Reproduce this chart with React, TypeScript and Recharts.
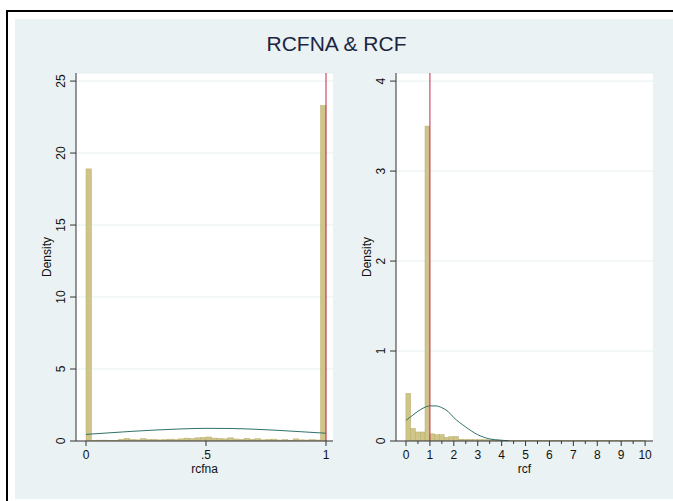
import React from 'react';
import {
  ComposedChart,
  Bar,
  Line,
  XAxis,
  YAxis,
  CartesianGrid,
  ReferenceLine,
} from 'recharts';

// rcfna histogram: 44 equal bins on [0, 1], density per bin
const rcfnaBinWidth = 1 / 44;
const rcfnaDensity = [
  18.9, 0.03, 0.06, 0.06, 0.05, 0.04, 0.12, 0.18, 0.1, 0.08, 0.17, 0.1,
  0.12, 0.08, 0.1, 0.13, 0.1, 0.15, 0.2, 0.16, 0.22, 0.25, 0.28, 0.2,
  0.18, 0.15, 0.22, 0.14, 0.12, 0.19, 0.12, 0.16, 0.08, 0.12, 0.13, 0.07,
  0.1, 0.06, 0.15, 0.08, 0.07, 0.09, 0.07, 23.3,
];
// normal overlay
const rcfnaCurveX = [0, 0.1, 0.2, 0.3, 0.4, 0.5, 0.6, 0.7, 0.8, 0.9, 1];
const rcfnaCurveY = [0.46, 0.57, 0.68, 0.77, 0.84, 0.88, 0.87, 0.82, 0.74, 0.64, 0.54];
const rcfnaTicks = [0, 0.5, 1];
const rcfnaTickLabels = ['0', '.5', '1'];
const rcfnaYTicks = [0, 5, 10, 15, 20, 25];

// rcf histogram: 50 bins of 0.2 on [0, 10]
const rcfBinWidth = 0.2;
const rcfDensity = [
  0.53, 0.14, 0.1, 0.1, 3.5, 0.08, 0.07, 0.07, 0.04, 0.05,
  0.05, 0.02, 0.018, 0.017, 0.016, 0.015, 0.014, 0.013, 0.012, 0.011,
  0.008, 0.006, 0.006, 0.006, 0.006, 0.006, 0.006, 0.006, 0.006, 0.006,
  0.006, 0.004, 0.004, 0.004, 0.004, 0.004, 0.004, 0.004, 0.004, 0.004,
  0.004, 0.004, 0.004, 0.004, 0.004, 0.004, 0.004, 0.004, 0.004, 0.004,
];
const rcfCurveX = [0, 0.25, 0.5, 0.75, 1, 1.25, 1.5, 1.75, 2, 2.5, 3, 3.5, 4, 4.3];
const rcfCurveY = [0.23, 0.28, 0.33, 0.37, 0.39, 0.39, 0.37, 0.33, 0.26, 0.155, 0.07, 0.023, 0.008, 0.003];
const rcfTicks = [0, 0.5, 1, 1.5, 2, 2.5, 3, 3.5, 4, 4.5, 5, 5.5, 6, 6.5, 7, 7.5, 8, 8.5, 9, 9.5, 10];
const rcfTickLabels = ['0', '1', '2', '3', '4', '5', '6', '7', '8', '9', '10'];
const rcfYTicks = [0, 1, 2, 3, 4];

const FONT = '"Liberation Sans", Arial, sans-serif';
const BAR_FILL = '#cfc589';
const BAR_EDGE = '#b9ad6b';
const CURVE = '#2f7268';
const XLINE = '#c42a4c';
const AXIS = '#333';
const GRID = '#e6eff1';
const BG = '#eaf2f3';

const bins = (density: number[], width: number) =>
  density.map((d, i) => ({ x: (i + 0.5) * width, density: d }));
const curve = (xs: number[], ys: number[]) => xs.map((x, i) => ({ x, y: ys[i] }));

const makeXTick = (ticks: number[], labels: string[]) => {
  const labelled = ticks.filter((t) => ticks.length <= 3 || Number.isInteger(t));
  return (props: any) => {
    const { x, y, payload } = props;
    const idx = labelled.indexOf(payload.value);
    const major = idx >= 0;
    return (
      <g>
        <line x1={x} x2={x} y1={y} y2={y + (major ? 5 : 3)} stroke={AXIS} />
        {major && (
          <text x={x} y={y + 18} textAnchor="middle" fontSize={12} fill="#111" fontFamily={FONT}>
            {labels[idx]}
          </text>
        )}
      </g>
    );
  };
};

const YTick = (props: any) => {
  const { x, y, payload } = props;
  const bx = x - 11;
  return (
    <g>
      <line x1={x - 6} x2={x} y1={y} y2={y} stroke={AXIS} />
      <text
        x={bx}
        y={y}
        transform={`rotate(-90 ${bx} ${y})`}
        textAnchor="middle"
        fontSize={12}
        fill="#111"
        fontFamily={FONT}
      >
        {payload.value}
      </text>
    </g>
  );
};

const yTitle = (props: any) => {
  const { viewBox } = props;
  const bx = viewBox.x + viewBox.width - 25;
  const cy = viewBox.y + viewBox.height / 2;
  return (
    <text x={bx} y={cy} transform={`rotate(-90 ${bx} ${cy})`} textAnchor="middle" fontSize={12} fill="#111" fontFamily={FONT}>
      Density
    </text>
  );
};

const xTitle = (text: string) => (props: any) => {
  const { viewBox } = props;
  return (
    <text x={viewBox.x + viewBox.width / 2} y={viewBox.y + 31.5} textAnchor="middle" fontSize={12} fill="#111" fontFamily={FONT}>
      {text}
    </text>
  );
};

// draw each bin at its full width, centred where the library put the bar
const makeBinShape = (binPx: number) => (props: any) => {
  const { x, y, width, height } = props;
  if (height == null || !(height > 0)) return <g />;
  const cx = x + width / 2;
  return (
    <rect
      x={cx - binPx / 2}
      y={y}
      width={binPx}
      height={height}
      fill={BAR_FILL}
      stroke={BAR_EDGE}
      strokeWidth={0.5}
    />
  );
};

interface PanelProps {
  left: number;
  bars: { x: number; density: number }[];
  line: { x: number; y: number }[];
  xDomain: [number, number];
  yDomain: [number, number];
  xTicks: number[];
  xLabels: string[];
  yTicks: number[];
  binWidth: number;
  title: string;
}

const W = 330;
const H = 430;
const MARGIN = { top: 13, right: 17, bottom: 19, left: 16 };
const Y_W = 40;

function Panel({ left, bars, line, xDomain, yDomain, xTicks, xLabels, yTicks, binWidth, title }: PanelProps) {
  const plotW = W - MARGIN.left - MARGIN.right - Y_W;
  const binPx = (plotW * binWidth) / (xDomain[1] - xDomain[0]);
  return (
    <div style={{ position: 'absolute', left, top: 60 }}>
      <ComposedChart width={W} height={H} data={bars} margin={MARGIN} barCategoryGap={0} barGap={0}>
        <CartesianGrid vertical={false} horizontal stroke={GRID} fill="#fff" />
        <XAxis
          type="number"
          dataKey="x"
          domain={xDomain}
          allowDataOverflow
          ticks={xTicks}
          interval={0}
          height={30}
          tickSize={0}
          tickMargin={0}
          tickLine={false}
          axisLine={{ stroke: AXIS }}
          tick={makeXTick(xTicks, xLabels)}
          label={xTitle(title)}
        />
        <YAxis
          type="number"
          domain={yDomain}
          allowDataOverflow
          ticks={yTicks}
          interval={0}
          width={Y_W}
          tickSize={0}
          tickMargin={0}
          tickLine={false}
          axisLine={{ stroke: AXIS }}
          tick={YTick}
          label={yTitle}
        />
        <Bar
          dataKey="density"
          fill={BAR_FILL}
          shape={makeBinShape(binPx)}
          isAnimationActive={false}
        />
        <Line
          data={line}
          dataKey="y"
          type="monotone"
          stroke={CURVE}
          strokeWidth={1}
          dot={false}
          activeDot={false}
          isAnimationActive={false}
        />
        <ReferenceLine x={1} stroke={XLINE} strokeWidth={1} />
      </ComposedChart>
    </div>
  );
}

export default function App() {
  return (
    <div
      style={{
        position: 'absolute',
        left: 0,
        top: 0,
        width: 673,
        height: 501,
        overflow: 'hidden',
        background: '#fff',
        fontFamily: FONT,
      }}
    >
      <div
        style={{
          position: 'absolute',
          left: 6,
          top: 10,
          width: 760,
          height: 600,
          border: '2px solid #000',
        }}
      />
      <div style={{ position: 'absolute', left: 15, top: 19, width: 700, height: 480, background: BG }} />
      <div
        style={{
          position: 'absolute',
          left: 0,
          width: 673,
          top: 32,
          textAlign: 'center',
          fontSize: 21,
          color: '#1c2541',
        }}
      >
        RCFNA &amp; RCF
      </div>
      <Panel
        left={20}
        bars={bins(rcfnaDensity, rcfnaBinWidth)}
        line={curve(rcfnaCurveX, rcfnaCurveY)}
        xDomain={[-0.0417, 1.0292]}
        yDomain={[0, 25.56]}
        xTicks={rcfnaTicks}
        xLabels={rcfnaTickLabels}
        yTicks={rcfnaYTicks}
        binWidth={rcfnaBinWidth}
        title="rcfna"
      />
      <Panel
        left={340}
        bars={bins(rcfDensity, rcfBinWidth)}
        line={curve(rcfCurveX, rcfCurveY)}
        xDomain={[-0.418, 10.33]}
        yDomain={[0, 4.09]}
        xTicks={rcfTicks}
        xLabels={rcfTickLabels}
        yTicks={rcfYTicks}
        binWidth={rcfBinWidth}
        title="rcf"
      />
    </div>
  );
}
